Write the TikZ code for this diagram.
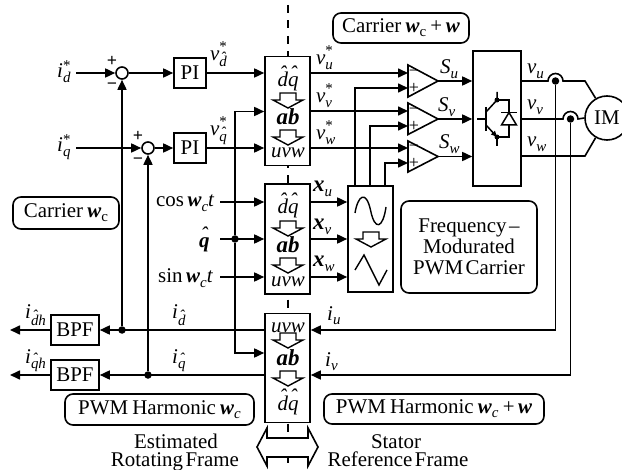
\documentclass[tikz,border=0pt]{standalone}
\usepackage{fontspec}
\setmainfont{Liberation Serif}
\usetikzlibrary{arrows.meta,calc,shapes.geometric}
\newcommand\hh[2][.3em]{\setbox0=\hbox{#2}\rlap{\hbox to \wd0{\hss\raisebox{#1}{\textit{\char"02C6}}\hss}}\box0 }
\newcommand\fs[1]{\fontsize{#1}{#1}\selectfont}
\newcommand\tsp{\spaceskip=.12em\relax}
\newcommand\bi[1]{\textbf{\textit{#1}}}
\newcommand\dn[2][4.5bp]{\raisebox{-#1}{\fs{15}\textit{#2}}}
\newcommand\up[2]{\rlap{\raisebox{#1}{\fs{15}#2}}}
\newcommand\dqh{\textit{\hh{d}\hh{q}}}
\newcommand\ab{\fs{23}\bi{ab}}
\newcommand\xb{{\fs{23}\bi{x}}}
\tikzset{
  x=1bp,y=-1bp,
  ln/.style={line width=1.6bp,line cap=butt},
  arr/.style={ln,-{Triangle[length=10bp,width=9bp]}},
  box/.style={draw,line width=1.6bp,fill=white,inner sep=0pt,font=\fs{21}},
  rbox/.style={draw,line width=1.6bp,fill=white,inner sep=0pt,rounded corners=8bp,font=\fs{21},align=center},
  txt/.style={inner sep=0pt,anchor=base west,font=\fs{21}},
  ctxt/.style={inner sep=0pt,anchor=base,font=\fs{21}},
  dot/.style={circle,fill=black,inner sep=0pt,minimum size=7.5bp},
  sumc/.style={circle,draw,line width=1.6bp,fill=white,inner sep=0pt,minimum size=12bp},
  sign/.style={inner sep=0pt,font=\fs{18}\bfseries},
  csign/.style={inner sep=0pt,font=\fs{18}},
  blockdown/.pic={\draw[line width=1.4bp,fill=white,line join=miter] (-8,0)--(8,0)--(8,7)--(15,7)--(0,15)--(-15,7)--(-8,7)--cycle;},
}
\begin{document}
\begin{tikzpicture}
\useasboundingbox (0,0) rectangle (622,470);
% centre dashed line
\coordinate (ctop) at (288,5);
\coordinate (cbot) at (288,470);
\draw[line width=1.8bp,dash pattern=on 8bp off 7.5bp] (ctop)--(cbot);
% transformation blocks
\node[box,minimum width=45bp,minimum height=109bp] (b1) at (287.5,111) {};
\node[box,minimum width=45bp,minimum height=110bp] (b2) at (287.5,239) {};
\node[box,minimum width=45bp,minimum height=109bp] (b3) at (287.5,368) {};
\pic at (288,93) {blockdown};
\pic at (288,130) {blockdown};
\pic at (288,221) {blockdown};
\pic at (288,258) {blockdown};
\pic at (288,333) {blockdown};
\pic at (288,371) {blockdown};
\node[ctxt] (t1a) at (288,87) {\dqh};
\node[ctxt] (t1b) at (288,125) {\ab};
\node[ctxt] (t1c) at (288,158) {\textit{uvw}};
\node[ctxt] (t2a) at (288,214) {\dqh};
\node[ctxt] (t2b) at (288,253) {\ab};
\node[ctxt] (t2c) at (288,287) {\textit{uvw}};
\node[ctxt] (t3a) at (288,332) {\textit{uvw}};
\node[ctxt] (t3b) at (288,365) {\ab};
\node[ctxt] (t3c) at (288,410) {\dqh};
% PI and sum
\node[box,minimum width=32bp,minimum height=30bp] (pi1) at (190,73) {PI};
\node[box,minimum width=32bp,minimum height=30bp] (pi2) at (190,148) {PI};
\node[sumc] (s1) at (122,73) {};
\node[sumc] (s2) at (148,148) {};
\node[sign] (p1) at (112,61) {+};
\node[sign] (m1) at (112,86) {−};
\node[sign] (p2) at (138,136) {+};
\node[sign] (m2) at (138,161) {−};
\coordinate (idin) at (76,73);
\coordinate (iqin) at (76,148);
\draw[arr] (idin)--(s1);
\draw[arr] (iqin)--(s2);
\draw[arr] (s1)--(pi1);
\draw[arr] (s2)--(pi2);
\draw[arr] (pi1.east)--(pi1.east-|b1.west);
\draw[arr] (pi2.east)--(pi2.east-|b1.west);
% BPF
\node[box,minimum width=48bp,minimum height=30bp] (bpf1) at (75,330) {BPF};
\node[box,minimum width=48bp,minimum height=30bp] (bpf2) at (75,375) {BPF};
\coordinate (o1) at (10,330);
\coordinate (o2) at (10,375);
\draw[arr] (bpf1)--(o1);
\draw[arr] (bpf2)--(o2);
\draw[arr] (bpf1.east-|b3.west)--(bpf1.east);
\draw[arr] (bpf2.east-|b3.west)--(bpf2.east);
\node[dot] (j1) at (122,330) {};
\node[dot] (j2) at (148,375) {};
\draw[arr] (j1)--(s1);
\draw[arr] (j2)--(s2);
% theta and trig inputs
\node[dot] (jt) at (235,239) {};
\coordinate (cosin) at (220,202);
\coordinate (thin) at (220,239);
\coordinate (sinin) at (220,277);
\coordinate (tu) at (235,111.5);
\coordinate (td) at (235,353);
\draw[arr] (cosin)--(cosin-|b2.west);
\draw[arr] (thin)--(thin-|b2.west);
\draw[arr] (sinin)--(sinin-|b2.west);
\draw[arr] (jt)--(tu)--(tu-|b1.west);
\draw[arr] (jt)--(td)--(td-|b3.west);
% carrier generator
\node[box,minimum width=45bp,minimum height=106bp] (car) at (370.5,239) {};
\draw[arr] (b2.east|-cosin)--(car.west|-cosin);
\draw[arr] (b2.east|-thin)--(car.west|-thin);
\draw[arr] (b2.east|-sinin)--(car.west|-sinin);
\draw[line width=1.4bp] (355,213) .. controls (358,195) and (366,190) .. (370.5,210) .. controls (375,232) and (383,228) .. (386,207);
\draw[line width=1.4bp] (355,270)--(364,255)--(379,285)--(387,270);
\pic at (371,232) {blockdown};
% comparators
\draw[ln,fill=white] (408,65)--(438,81)--(408,97)--cycle;
\draw[ln,fill=white] (408,103)--(438,119)--(408,134.5)--cycle;
\draw[ln,fill=white] (408,141)--(438,156.5)--(408,172)--cycle;
\coordinate (c1) at (438,81);
\coordinate (c2) at (438,119);
\coordinate (c3) at (438,156.5);
\node[csign] (m3) at (414,73) {−};
\node[csign] (p3) at (414,88) {+};
\node[csign] (m4) at (414,111) {−};
\node[csign] (p4) at (414,126) {+};
\node[csign] (m5) at (414,148) {−};
\node[csign] (p5) at (414,163) {+};
\coordinate (cu) at (408,73);
\coordinate (cv) at (408,111);
\coordinate (cw) at (408,148);
\coordinate (pu) at (408,88);
\coordinate (pv) at (408,126);
\coordinate (pw) at (408,163);
\coordinate (cx1) at (355,186);
\coordinate (cx2) at (370,186);
\coordinate (cx3) at (385,186);
\draw[arr] (cu-|b1.east)--(cu);
\draw[arr] (cv-|b1.east)--(cv);
\draw[arr] (cw-|b1.east)--(cw);
\draw[arr] (cx1)--(cx1|-pu)--(pu);
\draw[arr] (cx2)--(cx2|-pv)--(pv);
\draw[arr] (cx3)--(cx3|-pw)--(pw);
% inverter
\node[box,minimum width=48bp,minimum height=135bp] (inv) at (497,118.5) {};
\draw[arr] (c1)--(c1-|inv.west);
\draw[arr] (c2)--(c2-|inv.west);
\draw[arr] (c3)--(c3-|inv.west);
% IGBT
\draw[line width=1.5bp] (477,119)--(486,119);
\draw[line width=1.5bp] (486,107)--(486,131);
\draw[line width=1.5bp] (497,92)--(497,100)--(486,112);
\draw[line width=1.5bp,-{Triangle[length=6bp,width=5bp]}] (486,125)--(497,137);
\draw[line width=1.5bp] (497,137)--(497,146);
\draw[line width=1.5bp] (497,100)--(509,100)--(509,137)--(497,137);
\draw[line width=1.5bp] (501,112.5)--(517,112.5);
\draw[line width=1.5bp,fill=white] (509,112.5)--(516.5,125)--(501.5,125)--cycle;
\fill (497,100) circle (2.5);
\fill (497,137) circle (2.5);
% motor
\node[draw,circle,line width=1.6bp,fill=white,inner sep=0pt,minimum size=44bp,font=\fs{21}] (im) at (607,118) {IM};
\node[dot] (du) at (555.5,81) {};
\node[dot] (dv) at (570.5,119) {};
\coordinate (lu) at (585,81);
\coordinate (lw) at (585,156);
\draw[ln] (inv.east|-du) -- (548,81) arc (180:360:7.5) -- (lu) -- (im.120);
\draw[ln] (inv.east|-dv) -- (563,119) arc (180:360:7.5) -- (im.west);
\draw[ln] (inv.east|-lw) -- (lw) -- (im.240);
\coordinate (iu) at (555.5,330);
\coordinate (iv) at (570.5,375);
\draw[arr] (du)--(iu)--(iu-|b3.east);
\draw[arr] (dv)--(iv)--(iv-|b3.east);
% rounded labels
\node[rbox,minimum width=106bp,minimum height=32bp] (r1) at (66,213) {\spaceskip=.2em\relax Carrier \bi{w}\raisebox{-4bp}{\fs{15}c}};
\node[rbox,minimum width=136bp,minimum height=30bp] (r2) at (401,28) {\spaceskip=.2em\relax Carrier \bi{w}\raisebox{-4bp}{\fs{15}c} +\,\bi{w}};
\node[rbox,minimum width=136bp,minimum height=92bp] (r3) at (469,247) {\fontsize{21}{24.5}\selectfont\tsp Frequency –\\\tsp Modurated\\\tsp PWM Carrier};
\node[rbox,minimum width=189bp,minimum height=31bp] (r4) at (159.5,409.5) {\spaceskip=.2em\relax PWM Harmonic \bi{w}\raisebox{-4bp}{\fs{15}\textit{c}}};
\node[rbox,minimum width=220bp,minimum height=30bp] (r5) at (434,409) {\spaceskip=.2em\relax PWM Harmonic \bi{w}\raisebox{-4bp}{\fs{15}\textit{c}} +\,\bi{w}};
% frame arrow
\draw[ln,fill=white,line join=miter] (257,447)--(267,428)--(267,438)--(308,438)--(308,428)--(318,447)--(308,466)--(308,457)--(267,457)--(267,466)--cycle;
% signal labels
\node[txt] (l1) at (57,78) {\textit{i}\up{7bp}{*}\dn{d}};
\node[txt] (l2) at (57,152) {\textit{i}\up{7bp}{*}\dn{q}};
\node[txt] (l3) at (210,61) {\textit{v}\up{9bp}{*}\dn[6bp]{\hh{d}}};
\node[txt] (l4) at (210,136) {\textit{v}\up{9bp}{*}\dn[6bp]{\hh{q}}};
\node[txt] (l5) at (316,65) {\textit{v}\up{9bp}{*}\dn{u}};
\node[txt] (l6) at (316,103) {\textit{v}\up{9bp}{*}\dn{v}};
\node[txt] (l7) at (316,140) {\textit{v}\up{9bp}{*}\dn{w}};
\node[txt] (l8) at (440,74) {\textit{S}\dn{u}};
\node[txt] (l9) at (438,112) {\textit{S}\dn{v}};
\node[txt] (l10) at (439,149) {\textit{S}\dn{w}};
\node[txt] (l11) at (527,74) {\textit{v}\dn{u}};
\node[txt] (l12) at (527,110) {\textit{v}\dn{v}};
\node[txt] (l13) at (527,147) {\textit{v}\dn{w}};
\node[txt] (l14) at (313,192) {\xb\dn{u}};
\node[txt] (l15) at (313,230) {\xb\dn{v}};
\node[txt] (l16) at (313,267) {\xb\dn{w}};
\node[txt] (l17) at (156,207) {cos\,\bi{w}\dn{c}\textit{t}};
\node[txt] (l18) at (158,283) {sin\,\bi{w}\dn{c}\textit{t}};
\node[txt] (l19) at (199,248) {\hh{\bi{q}}};
\node[txt] (l20) at (25,318) {\textit{i}\dn[7bp]{\hh{d}h}};
\node[txt] (l21) at (25,363) {\textit{i}\dn[5bp]{\hh{q}h}};
\node[txt] (l22) at (172,318) {\textit{i}\dn[7bp]{\hh{d}}};
\node[txt] (l23) at (172,363) {\textit{i}\dn[5bp]{\hh{q}}};
\node[txt] (l24) at (327,320) {\textit{i}\dn{u}};
\node[txt] (l25) at (325,366) {\textit{i}\dn{v}};
\node[ctxt] (l26) at (176,448) {Estimated};
\node[ctxt] (l27) at (175,466) {\tsp Rotating Frame};
\node[ctxt] (l28) at (396,448) {Stator};
\node[ctxt] (l29) at (398,466) {\tsp Reference Frame};
\end{tikzpicture}
\end{document}
